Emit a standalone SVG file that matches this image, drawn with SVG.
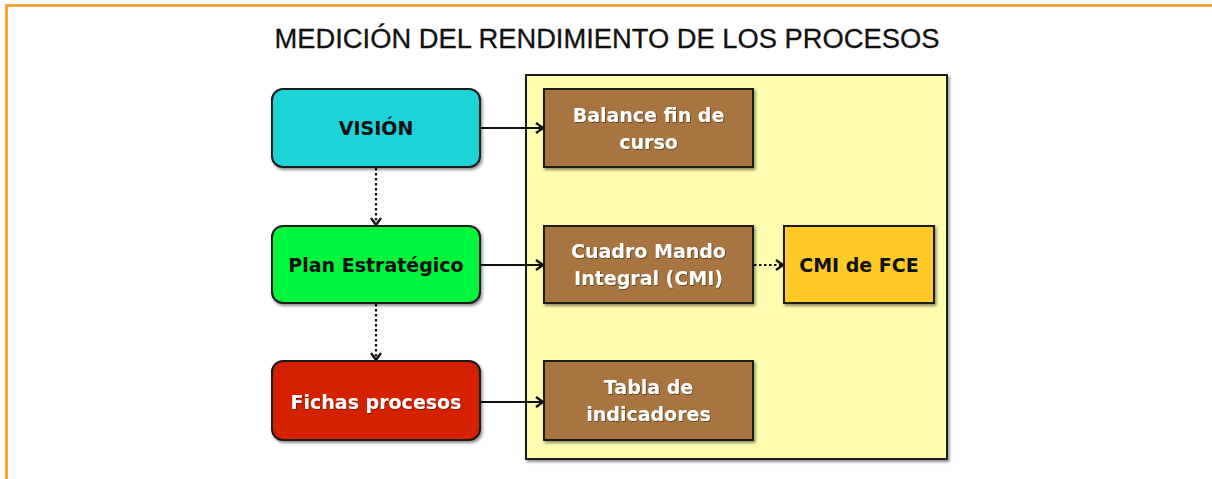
<svg xmlns="http://www.w3.org/2000/svg" width="1212" height="479" viewBox="0 0 1212 479">
<style>
.title{font-family:"Liberation Sans Narrow","Liberation Sans",Arial,sans-serif;font-size:27px;fill:#111;stroke:#111;stroke-width:0.3}
.lbl{font-family:"DejaVu Sans","Open Sans",sans-serif;font-weight:bold;font-size:19px;text-anchor:middle}
.dark{fill:#111}
.light{fill:#fff}
.box{stroke:#1a1a1a;stroke-width:2}
.conn{stroke:#111;stroke-width:2.2;fill:none}
.dot{stroke-dasharray:2.5 2.5}
</style>
<defs>
<filter id="sh" x="-10%" y="-10%" width="125%" height="130%">
<feDropShadow dx="1.5" dy="2" stdDeviation="1.5" flood-color="#000" flood-opacity="0.45"/>
</filter>
<filter id="tsh" x="-10%" y="-20%" width="120%" height="140%">
<feDropShadow dx="0.8" dy="0.8" stdDeviation="0.6" flood-color="#000" flood-opacity="0.5"/>
</filter>
<marker id="arr" markerWidth="12" markerHeight="12" refX="9" refY="6" orient="auto" markerUnits="userSpaceOnUse">
<path d="M2,1 L9,6 L2,11" fill="none" stroke="#111" stroke-width="2.4"/>
</marker>
</defs>
<rect x="0" y="0" width="1212" height="479" fill="#fff"/>
<g id="frame">
<path d="M6.5,479 V5.5 H1212" fill="none" stroke="#f7941d" stroke-width="2.5"/>
</g>
<g id="title">
<text class="title" x="607" y="48" text-anchor="middle" textLength="665" lengthAdjust="spacingAndGlyphs">MEDICIÓN DEL RENDIMIENTO DE LOS PROCESOS</text>
</g>
<g id="container">
<rect x="526" y="75" width="421" height="384" fill="#fffdb0" stroke="#1a1a1a" stroke-width="2" filter="url(#sh)"/>
</g>
<g id="connectors">
<line class="conn" x1="480" y1="128" x2="543" y2="128" marker-end="url(#arr)"/>
<line class="conn" x1="480" y1="265" x2="543" y2="265" marker-end="url(#arr)"/>
<line class="conn" x1="480" y1="402" x2="543" y2="402" marker-end="url(#arr)"/>
<line class="conn dot" x1="376" y1="168" x2="376" y2="225" marker-end="url(#arr)"/>
<line class="conn dot" x1="376" y1="304" x2="376" y2="360" marker-end="url(#arr)"/>
<line class="conn dot" x1="754" y1="265" x2="783" y2="265" marker-end="url(#arr)"/>
</g>
<g id="vision">
<rect class="box" x="272" y="89" width="208" height="78" rx="11" fill="#1fd3d8" filter="url(#sh)"/>
<text class="lbl dark" x="376" y="135">VISIÓN</text>
</g>
<g id="plan">
<rect class="box" x="272" y="226" width="208" height="77" rx="11" fill="#00f53c" filter="url(#sh)"/>
<text class="lbl dark" x="376" y="272">Plan Estratégico</text>
</g>
<g id="fichas">
<rect class="box" x="272" y="361" width="208" height="79" rx="11" fill="#d42000" filter="url(#sh)"/>
<text class="lbl light" x="376" y="409" filter="url(#tsh)">Fichas procesos</text>
</g>
<g id="balance">
<rect class="box" x="544" y="89" width="209" height="78" fill="#a8743f" filter="url(#sh)"/>
<text class="lbl light" x="648.5" y="122" filter="url(#tsh)">Balance fin de</text>
<text class="lbl light" x="648.5" y="149" filter="url(#tsh)">curso</text>
</g>
<g id="cmi">
<rect class="box" x="544" y="226" width="209" height="77" fill="#a8743f" filter="url(#sh)"/>
<text class="lbl light" x="648.5" y="258" filter="url(#tsh)">Cuadro Mando</text>
<text class="lbl light" x="648.5" y="285" filter="url(#tsh)">Integral (CMI)</text>
</g>
<g id="tabla">
<rect class="box" x="544" y="361" width="209" height="79" fill="#a8743f" filter="url(#sh)"/>
<text class="lbl light" x="648.5" y="394" filter="url(#tsh)">Tabla de</text>
<text class="lbl light" x="648.5" y="421" filter="url(#tsh)">indicadores</text>
</g>
<g id="cmifce">
<rect class="box" x="784" y="226" width="150" height="77" fill="#ffc926" filter="url(#sh)"/>
<text class="lbl dark" x="859" y="272">CMI de FCE</text>
</g>
</svg>
